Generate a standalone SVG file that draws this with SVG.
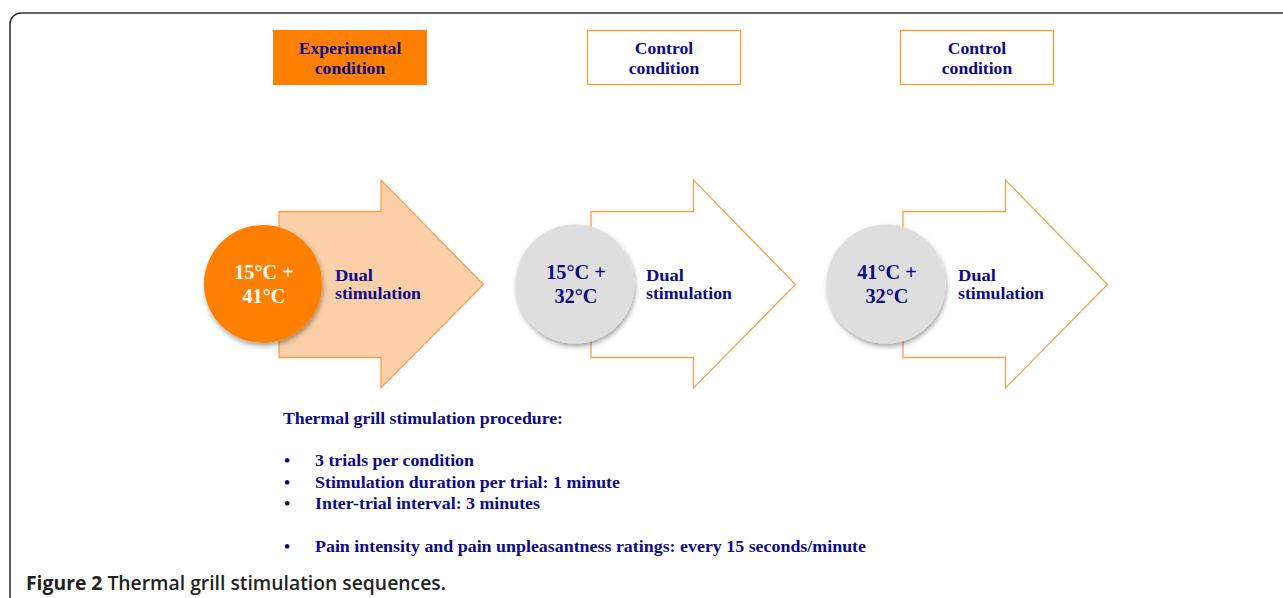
<svg xmlns="http://www.w3.org/2000/svg" width="1283" height="598" viewBox="0 0 1283 598">
<style>
.lbl{font-family:"Liberation Serif","Times New Roman",serif;font-weight:bold;fill:#0a0a8a}
.box{font-size:17.6px;text-anchor:middle}
.temp{font-size:20.3px;text-anchor:middle}
.dual{font-size:16.5px}
.proc{font-size:17.6px}
.cap{font-family:"Open Sans","Noto Sans",sans-serif;font-size:19px;fill:#222}
</style>
<defs>
<filter id="sh" x="-20%" y="-20%" width="150%" height="150%">
<feDropShadow dx="1" dy="3" stdDeviation="2.5" flood-color="#000" flood-opacity="0.35"/>
</filter>
</defs>
<rect x="10" y="13" width="1300" height="620" rx="11" ry="11" fill="none" stroke="#333" stroke-width="1.6"/>
<g id="conn"></g>
<g id="hdr1">
<rect x="273" y="30" width="154" height="55" fill="#ff7f00"/>
<text class="lbl box" x="350" y="54">Experimental</text>
<text class="lbl box" x="350" y="74">condition</text>
</g>
<g id="hdr2">
<rect x="587.5" y="30.5" width="153" height="54" fill="#fff" stroke="#ff9a1a" stroke-width="1.2"/>
<text class="lbl box" x="664" y="54">Control</text>
<text class="lbl box" x="664" y="74">condition</text>
</g>
<g id="hdr3">
<rect x="900.5" y="30.5" width="153" height="54" fill="#fff" stroke="#ff9a1a" stroke-width="1.2"/>
<text class="lbl box" x="977" y="54">Control</text>
<text class="lbl box" x="977" y="74">condition</text>
</g>
<g id="arrow1">
<polygon points="279,211.5 381,211.5 381,180 483.5,284.5 381,388 381,357.5 279,357.5" fill="#fbd0a8" stroke="#f7a050" stroke-width="1.3"/>
<circle cx="263" cy="284" r="59" fill="#ff7f00" filter="url(#sh)"/>
<text class="lbl temp" x="264" y="279" style="fill:#fff">15°C +</text>
<text class="lbl temp" x="264" y="303" style="fill:#fff">41°C</text>
<text class="lbl dual" x="335" y="281" textLength="38" lengthAdjust="spacingAndGlyphs">Dual</text>
<text class="lbl dual" x="335" y="299" textLength="86" lengthAdjust="spacingAndGlyphs">stimulation</text>
</g>
<g id="arrow2">
<polygon points="591,211.5 693.5,211.5 693.5,180 795.5,284.5 693.5,388 693.5,357.5 591,357.5" fill="#fff" stroke="#f7a050" stroke-width="1.3"/>
<circle cx="575" cy="284" r="59.5" fill="#dedede" filter="url(#sh)"/>
<text class="lbl temp" x="576" y="279">15°C +</text>
<text class="lbl temp" x="576" y="303">32°C</text>
<text class="lbl dual" x="646" y="281" textLength="38" lengthAdjust="spacingAndGlyphs">Dual</text>
<text class="lbl dual" x="646" y="299" textLength="86" lengthAdjust="spacingAndGlyphs">stimulation</text>
</g>
<g id="arrow3">
<polygon points="903,211.5 1005.5,211.5 1005.5,180 1107.5,284.5 1005.5,388 1005.5,357.5 903,357.5" fill="#fff" stroke="#f7a050" stroke-width="1.3"/>
<circle cx="886" cy="284" r="59.5" fill="#dedede" filter="url(#sh)"/>
<text class="lbl temp" x="887" y="279">41°C +</text>
<text class="lbl temp" x="887" y="303">32°C</text>
<text class="lbl dual" x="958" y="281" textLength="38" lengthAdjust="spacingAndGlyphs">Dual</text>
<text class="lbl dual" x="958" y="299" textLength="86" lengthAdjust="spacingAndGlyphs">stimulation</text>
</g>
<g id="procedure">
<text class="lbl proc" x="283" y="424" textLength="280" lengthAdjust="spacingAndGlyphs">Thermal grill stimulation procedure:</text>
<text class="lbl proc" x="284" y="466">•</text>
<text class="lbl proc" x="315" y="466" textLength="159" lengthAdjust="spacingAndGlyphs">3 trials per condition</text>
<text class="lbl proc" x="284" y="488">•</text>
<text class="lbl proc" x="315" y="488" textLength="305" lengthAdjust="spacingAndGlyphs">Stimulation duration per trial: 1 minute</text>
<text class="lbl proc" x="284" y="509">•</text>
<text class="lbl proc" x="315" y="509" textLength="225" lengthAdjust="spacingAndGlyphs">Inter-trial interval: 3 minutes</text>
<text class="lbl proc" x="284" y="552">•</text>
<text class="lbl proc" x="315" y="552" textLength="551" lengthAdjust="spacingAndGlyphs">Pain intensity and pain unpleasantness ratings: every 15 seconds/minute</text>
</g>
<text class="cap" x="26" y="590" textLength="420" lengthAdjust="spacingAndGlyphs"><tspan font-weight="700">Figure 2</tspan><tspan font-weight="600"> Thermal grill stimulation sequences.</tspan></text>
</svg>
